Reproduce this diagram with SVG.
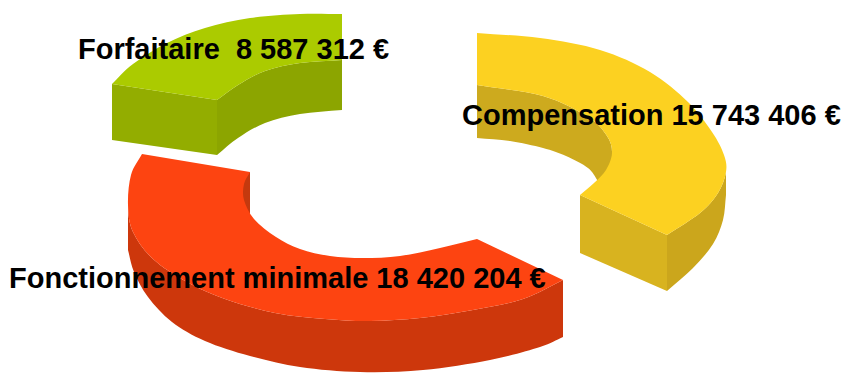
<svg xmlns="http://www.w3.org/2000/svg" width="843" height="373" viewBox="0 0 843 373">
  <style>
    .lbl { font-family: "Liberation Sans", Arial, sans-serif; font-weight: bold; font-size: 29px; fill: #000000; }
    .g-top { fill: #abcb00; }
    .g-cut { fill: #93ad00; }
    .g-in { fill: #8ca500; }
    .y-top { fill: #fcd121; }
    .y-in { fill: #cdaa1e; }
    .y-cut { fill: #d8b31f; }
    .y-out { fill: #cba61c; }
    .r-top { fill: #fd4411; }
    .r-out { fill: #cd370c; }
    .r-in { fill: #c4390e; }
  </style>
  <rect width="843" height="373" fill="#ffffff"/>

  <g id="seg-forfaitaire">
    <path class="g-in" d="M217,100 C224,95 230,89.8 238,85 C246,80.2 254.7,74.7 265,71 C275.3,67.3 287.2,64.8 300,63 C312.8,61.2 328,61 342,60 L342,110 C328,111.3 312.8,111.8 300,114 C287.2,116.2 275.3,119 265,123 C254.7,127 246,132.7 238,138 C230,143.3 224,149.3 217,155 Z"/>
    <path class="g-cut" d="M112,84 L217,100 L217,155 L112,140 Z"/>
    <path class="g-top" d="M112,84 C119,77.3 123.8,70.8 133,64 C142.2,57.2 155,49 167,43 C179,37 191.2,32.2 205,28 C218.8,23.8 234.2,20.3 250,18 C265.8,15.7 284.7,14.7 300,14 C315.3,13.3 328,14 342,14 L342,60 C328,61 312.8,61.2 300,63 C287.2,64.8 275.3,67.3 265,71 C254.7,74.7 246,80.2 238,85 C230,89.8 224,95 217,100 Z"/>
    <text class="lbl" x="78" y="59" xml:space="preserve">Forfaitaire  8 587 312 €</text>
  </g>

  <g id="seg-compensation">
    <path class="y-in" d="M477,85 C499,88.7 524.5,90.7 543,96 C561.5,101.3 577.3,110.3 588,117 C598.7,123.7 603,130 607,136 C611,142 612.2,147.3 612,153 L612,180 L598,181 C594.7,176.7 593.3,172.2 588,168 C582.7,163.8 573.5,159.3 566,156 C558.5,152.7 552.3,150.5 543,148 C533.7,145.5 521,142.7 510,141 C499,139.3 488,139 477,138 Z"/>
    <path class="y-out" d="M726,172 C725,178.3 722.3,186.2 718,193 C713.7,199.8 708.5,206 700,213 C691.5,220 678,227.7 667,235 L667,291 C675.7,283.3 685.3,275.8 693,268 C700.7,260.2 708,252 713,244 C718,236 720.8,228.2 723,220 C725.2,211.8 725,203.3 726,195 Z"/>
    <path class="y-cut" d="M580,195 L667,235 L667,291 L580,253 Z"/>
    <path class="y-top" d="M477,33 C498,34.7 519.5,35.2 540,38 C560.5,40.8 581.7,44.3 600,50 C618.3,55.7 635.3,63.3 650,72 C664.7,80.7 677.7,92 688,102 C698.3,112 706,123.2 712,132 C718,140.8 721.7,148.3 724,155 C726.3,161.7 727,165.7 726,172 C725,178.3 722.3,186.2 718,193 C713.7,199.8 708.5,206 700,213 C691.5,220 678,227.7 667,235 L580,195 C584.7,191 589.7,187.2 594,183 C598.3,178.8 603,175 606,170 C609,165 611.8,158.7 612,153 C612.2,147.3 611,142 607,136 C603,130 598.7,123.7 588,117 C577.3,110.3 561.5,101.3 543,96 C524.5,90.7 499,88.7 477,85 Z"/>
    <text class="lbl" x="462" y="125">Compensation 15 743 406 €</text>
  </g>

  <g id="seg-fonctionnement">
    <path class="r-in" d="M250,172 L238,176 L238,210 L250,214 Z"/>
    <path class="r-out" d="M128,205 C128.3,214.5 128.8,223 133,232 C137.2,241 144,250.7 153,259 C162,267.3 175,275.3 187,282 C199,288.7 210.3,293.8 225,299 C239.7,304.2 258.3,309.7 275,313 C291.7,316.3 309.2,317.7 325,319 C340.8,320.3 354.2,321.2 370,321 C385.8,320.8 402.8,319.8 420,318 C437.2,316.2 455.8,313.2 473,310 C490.2,306.8 508,304 523,299 C538,294 549.7,286.3 563,280 L563,337 C555.3,340.3 552.2,343.2 540,347 C527.8,350.8 509.5,356.2 490,360 C470.5,363.8 444.7,368 423,370 C401.3,372 380.5,372.5 360,372 C339.5,371.5 318.3,369.7 300,367 C281.7,364.3 265.8,360.3 250,356 C234.2,351.7 218,346.7 205,341 C192,335.3 181.5,329.3 172,322 C162.5,314.7 154.3,305.3 148,297 C141.7,288.7 137.3,279.8 134,272 C130.7,264.2 130,257.3 128,250 Z"/>
    <path class="r-top" d="M142,154 C138.3,161 133.3,166.5 131,175 C128.7,183.5 127.7,195.5 128,205 C128.3,214.5 128.8,223 133,232 C137.2,241 144,250.7 153,259 C162,267.3 175,275.3 187,282 C199,288.7 210.3,293.8 225,299 C239.7,304.2 258.3,309.7 275,313 C291.7,316.3 309.2,317.7 325,319 C340.8,320.3 354.2,321.2 370,321 C385.8,320.8 402.8,319.8 420,318 C437.2,316.2 455.8,313.2 473,310 C490.2,306.8 508,304 523,299 C538,294 549.7,286.3 563,280 L477,239 C464.7,242 452.8,245.2 440,248 C427.2,250.8 412.8,254.3 400,256 C387.2,257.7 374.7,258 363,258 C351.3,258 340.5,257.5 330,256 C319.5,254.5 309,252.2 300,249 C291,245.8 283.7,242 276,237 C268.3,232 259.3,225.2 254,219 C248.7,212.8 245.7,205.8 244,200 C242.3,194.2 243,188.7 244,184 C245,179.3 248,176 250,172 Z"/>
    <text class="lbl" x="9" y="288">Fonctionnement minimale 18 420 204 €</text>
  </g>
</svg>
